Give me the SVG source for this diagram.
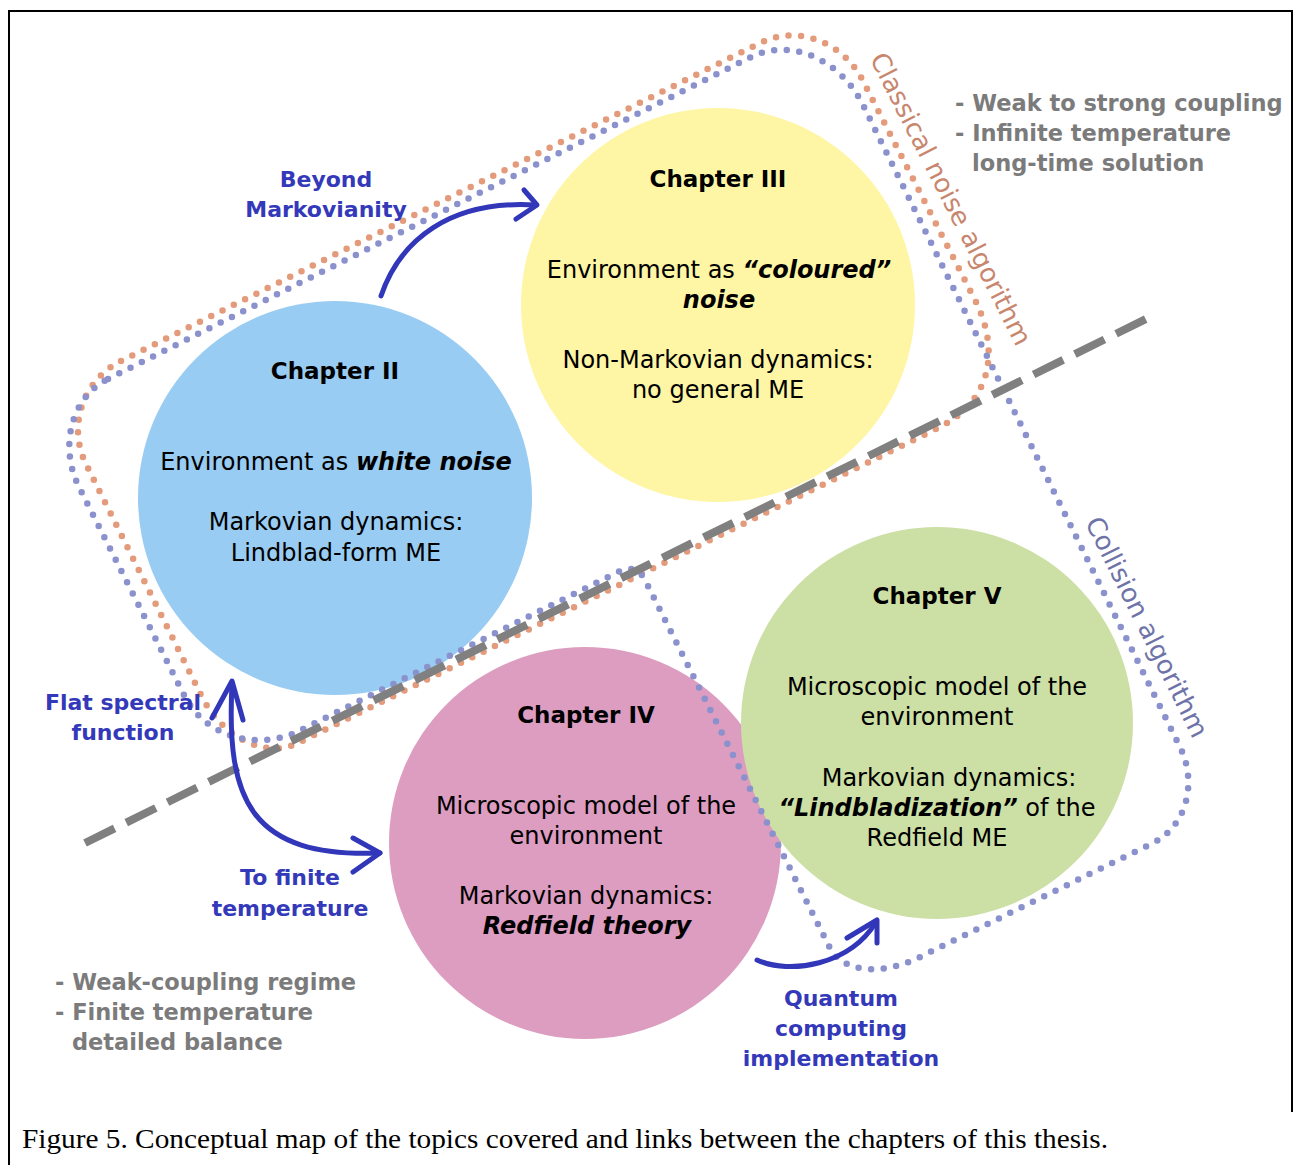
<svg xmlns="http://www.w3.org/2000/svg" width="1299" height="1165" viewBox="0 0 1299 1165">
<defs>
<style>
.t{font-family:"DejaVu Sans","Liberation Sans",sans-serif;font-size:24px;fill:#000;text-anchor:middle}
.h{font-weight:bold;font-size:23px}
.bi{font-weight:bold;font-style:italic}
.lab{font-family:"DejaVu Sans","Liberation Sans",sans-serif;font-size:22px;font-weight:bold;fill:#3439B9;text-anchor:middle}
.note{font-family:"DejaVu Sans","Liberation Sans",sans-serif;font-size:22.5px;font-weight:bold;fill:#7b7b7b}
.dot{fill:none;stroke-width:6.5;stroke-linecap:round;stroke-dasharray:0 12.6}
.arr{fill:none;stroke:#3137B8;stroke-width:5;stroke-linecap:round;stroke-linejoin:round}
.rot{font-family:"DejaVu Sans","Liberation Sans",sans-serif;font-size:26px;text-anchor:middle}
</style>
</defs>
<rect width="1299" height="1165" fill="#fff"/>
<g id="frame" stroke="#000" stroke-width="2" fill="none">
<path d="M9,1165 V11 H1292 V1112"/>
</g>
<g id="chapter2"><circle cx="335" cy="498" r="197" fill="#99CCF2"/></g>
<g id="chapter3"><circle cx="718" cy="305" r="197" fill="#FEF5A5"/></g>
<g id="chapter4"><circle cx="585" cy="843" r="196" fill="#DC9DC0"/></g>
<g id="chapter5"><circle cx="937" cy="723" r="196" fill="#CCDFA5"/></g>
<g id="boundaries">
<path class="dot" stroke="#E39B7B" d="M121,361 L760,43 C797,24.5 843,41.5 863,81 L975,300 C1000,350 992,400 940,427 L298,743 C266,759 223,738 202,697 L86,464 C67,426 83,380 121,361 Z"/>
<path class="dot" stroke="#8A91CC" d="M108,379 L751,57 C790,37.4 840,58.9 863,105 L1180,747 C1198,783.5 1186,826.5 1153,843 L918,958 C881,976 842,972 830,948 L645,580 Q636,563 618,572 L299,731 C256,752 204,736 184,695 L79,487 C58.5,446 71.5,397 108,379 Z"/>
<line x1="85" y1="843" x2="1148" y2="318" stroke="#808080" stroke-width="8" stroke-dasharray="33 13"/>
<text class="rot" transform="translate(943,203) rotate(63)" fill="#C8866E">Classical noise algorithm</text>
<text class="rot" transform="translate(1139,631) rotate(63.5)" fill="#6E73A8">Collision algorithm</text>
</g>
<g id="connectors">
<path class="arr" d="M381,296 C400,240 450,200 535,205"/>
<path class="arr" d="M524,190 L537,205 L516,219"/>
<path class="arr" d="M232,684 C226,800 250,858 380,853"/>
<path class="arr" d="M212,718 L232,681 L243,720"/>
<path class="arr" d="M353,838 L380,853 L353,872"/>
<path class="arr" d="M757,960 C790,975 850,965 876,922"/>
<path class="arr" d="M847,938 L877,920 L877,943"/>
</g>
<g id="chapter2-text">
<text class="t h" x="335" y="379">Chapter II</text>
<text class="t" x="336" y="470">Environment as <tspan class="bi">white noise</tspan></text>
<text class="t" x="336" y="530">Markovian dynamics:</text>
<text class="t" x="336" y="561">Lindblad-form ME</text>
</g>
<g id="chapter3-text">
<text class="t h" x="718" y="187">Chapter III</text>
<text class="t" x="719" y="278">Environment as <tspan class="bi">“coloured”</tspan></text>
<text class="t bi" x="719" y="308">noise</text>
<text class="t" x="718" y="368">Non-Markovian dynamics:</text>
<text class="t" x="718" y="398">no general ME</text>
</g>
<g id="chapter4-text">
<text class="t h" x="586" y="723">Chapter IV</text>
<text class="t" x="586" y="814">Microscopic model of the</text>
<text class="t" x="586" y="844">environment</text>
<text class="t" x="586" y="904">Markovian dynamics:</text>
<text class="t bi" x="587" y="934">Redfield theory</text>
</g>
<g id="chapter5-text">
<text class="t h" x="937" y="604">Chapter V</text>
<text class="t" x="937" y="695">Microscopic model of the</text>
<text class="t" x="937" y="725">environment</text>
<text class="t" x="949" y="786">Markovian dynamics:</text>
<text class="t" x="937" y="816"><tspan class="bi">“Lindbladization”</tspan> of the</text>
<text class="t" x="937" y="846">Redfield ME</text>
</g>
<g id="link-labels">
<text class="lab" x="326" y="187">Beyond</text>
<text class="lab" x="326" y="217">Markovianity</text>
<text class="lab" x="123" y="710">Flat spectral</text>
<text class="lab" x="123" y="740">function</text>
<text class="lab" x="290" y="885">To finite</text>
<text class="lab" x="290" y="916">temperature</text>
<text class="lab" x="841" y="1006">Quantum</text>
<text class="lab" x="841" y="1036">computing</text>
<text class="lab" x="841" y="1066">implementation</text>
</g>
<g id="notes">
<text class="note" x="955" y="111">- Weak to strong coupling</text>
<text class="note" x="955" y="141">- Infinite temperature</text>
<text class="note" x="972" y="171">long-time solution</text>
<text class="note" x="55" y="990">- Weak-coupling regime</text>
<text class="note" x="55" y="1020">- Finite temperature</text>
<text class="note" x="72" y="1050">detailed balance</text>
</g>
<text x="22" y="1148" font-family="Liberation Serif, serif" font-size="27" textLength="1086" lengthAdjust="spacingAndGlyphs">Figure 5. Conceptual map of the topics covered and links between the chapters of this thesis.</text>
</svg>
